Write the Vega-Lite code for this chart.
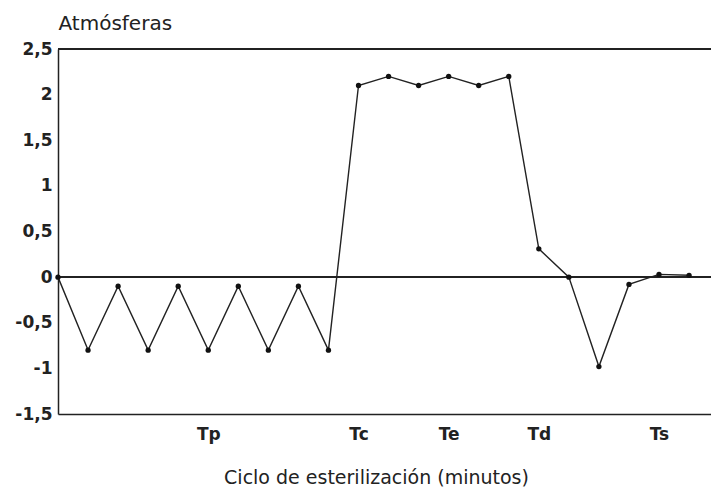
{
  "$schema": "https://vega.github.io/schema/vega-lite/v6.json",
  "width": 653,
  "height": 365,
  "autosize": {"type": "none"},
  "padding": {"left": 58, "top": 49, "right": 0, "bottom": 75},
  "background": "white",
  "config": {
    "view": {"stroke": null},
    "font": "DejaVu Sans"
  },
  "data": {
    "values": [
      {"t": 0, "atm": 0},
      {"t": 1, "atm": -0.8},
      {"t": 2, "atm": -0.1},
      {"t": 3, "atm": -0.8},
      {"t": 4, "atm": -0.1},
      {"t": 5, "atm": -0.8},
      {"t": 6, "atm": -0.1},
      {"t": 7, "atm": -0.8},
      {"t": 8, "atm": -0.1},
      {"t": 9, "atm": -0.8},
      {"t": 10, "atm": 2.1},
      {"t": 11, "atm": 2.2},
      {"t": 12, "atm": 2.1},
      {"t": 13, "atm": 2.2},
      {"t": 14, "atm": 2.1},
      {"t": 15, "atm": 2.2},
      {"t": 16, "atm": 0.31},
      {"t": 17, "atm": 0.0},
      {"t": 18, "atm": -0.98},
      {"t": 19, "atm": -0.08},
      {"t": 20, "atm": 0.03},
      {"t": 21, "atm": 0.02}
    ]
  },
  "layer": [
    {
      "mark": {"type": "rule", "color": "#222", "strokeWidth": 1.6},
      "encoding": {"y": {"datum": 0, "type": "quantitative"}}
    },
    {
      "mark": {"type": "rule", "color": "#222", "strokeWidth": 1.5},
      "encoding": {"y": {"datum": 2.5, "type": "quantitative"}}
    },
    {
      "mark": {"type": "line", "color": "#222", "strokeWidth": 1.4, "point": {"filled": true, "color": "#111", "size": 28, "opacity": 1}},
      "encoding": {
        "x": {
          "field": "t", "type": "quantitative",
          "scale": {"domain": [0, 21.73], "nice": false, "zero": false},
          "axis": {
            "values": [5, 10, 13, 16, 20],
            "labelExpr": "datum.value == 5 ? 'Tp' : datum.value == 10 ? 'Tc' : datum.value == 13 ? 'Te' : datum.value == 16 ? 'Td' : 'Ts'",
            "grid": false,
            "ticks": false,
            "domainColor": "#222",
            "domainWidth": 1.5,
            "labelFontSize": 17,
            "labelFontWeight": "bold",
            "labelColor": "#222",
            "labelPadding": 12,
            "title": "Ciclo de esterilización (minutos)",
            "titleFontSize": 19,
            "titleFontWeight": "normal",
            "titleColor": "#222",
            "titleX": 318,
            "titleY": 69,
            "titleAlign": "center",
            "titleBaseline": "alphabetic"
          }
        },
        "y": {
          "field": "atm", "type": "quantitative",
          "scale": {"domain": [-1.5, 2.5], "nice": false},
          "axis": {
            "values": [-1.5, -1, -0.5, 0, 0.5, 1, 1.5, 2, 2.5],
            "labelExpr": "replace(replace(format(datum.value, ''), '.', ','), '\u2212', '-')",
            "grid": false,
            "ticks": false,
            "domainColor": "#222",
            "domainWidth": 1.5,
            "labelFontSize": 17,
            "labelFontWeight": "bold",
            "labelColor": "#222",
            "labelPadding": 6,
            "title": "Atmósferas",
            "titleAngle": 0,
            "titleFontSize": 20,
            "titleFontWeight": "normal",
            "titleColor": "#222",
            "titleX": 0,
            "titleY": -20,
            "titleAlign": "left",
            "titleBaseline": "alphabetic"
          }
        }
      }
    }
  ]
}
